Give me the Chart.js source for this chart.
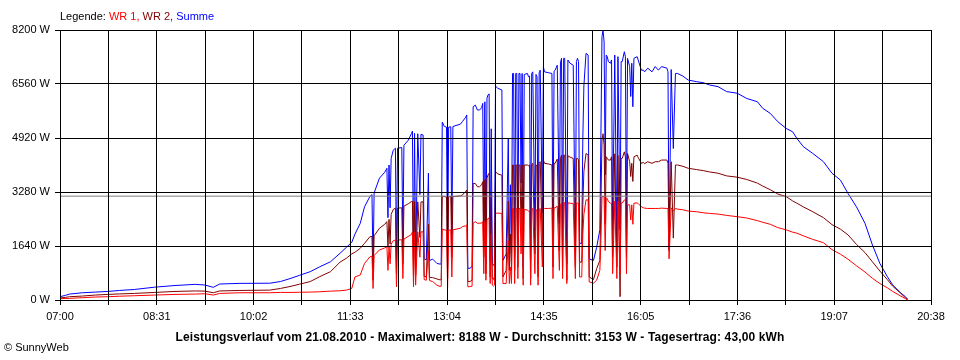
<!DOCTYPE html>
<html><head><meta charset="utf-8">
<script src="https://cdn.jsdelivr.net/npm/chart.js@4.4.1/dist/chart.umd.min.js"></script>
<style>
html,body{margin:0;padding:0;background:#fff;}
#wrap{position:relative;width:960px;height:360px;overflow:hidden;}
canvas{position:absolute;left:0;top:0;}
.txt{position:absolute;font-family:"Liberation Sans",Arial,sans-serif;white-space:nowrap;color:#000;line-height:1;}
#legend{left:60px;top:11px;font-size:11px;}
#title{left:0;width:960px;text-align:center;top:331px;font-size:12px;font-weight:bold;letter-spacing:0.12px;}
#copy{left:4px;top:342px;font-size:11px;}
</style></head><body>
<div id="wrap">
<canvas id="c" width="960" height="360"></canvas>
<div class="txt" id="legend">Legende: <span style="color:#ff0000">WR 1,</span> <span style="color:#800000">WR 2,</span> <span style="color:#0000ff">Summe</span></div>
<div class="txt" id="title">Leistungsverlauf vom 21.08.2010 - Maximalwert: 8188 W - Durchschnitt: 3153 W - Tagesertrag: 43,00 kWh</div>
<div class="txt" id="copy">© SunnyWeb</div>
</div>
<script>
const times = [
 "07:00","07:05","07:09","07:21","07:33","07:45","07:56","08:10","08:29","08:48",
 "09:07","09:16","09:24","09:30","09:49","10:17","10:27","10:36","10:45","10:55",
 "11:04","11:14","11:23","11:29","11:34","11:37","11:42","11:46","11:51","11:53",
 "11:54","11:55","12:00","12:05","12:07","12:08","12:09","12:10","12:11","12:13",
 "12:15","12:16","12:17","12:21","12:22","12:23","12:27","12:30","12:31","12:32",
 "12:33","12:34","12:36","12:38","12:39","12:41","12:42","12:44","12:46","12:47",
 "12:50","12:54","12:57","12:58","12:59","13:01","13:03","13:04","13:05","13:07",
 "13:08","13:09","13:16","13:18","13:21","13:22","13:23","13:25","13:27","13:28",
 "13:30","13:32","13:34","13:36","13:37","13:38","13:39","13:40","13:41","13:42",
 "13:43","13:44","13:45","13:46","13:47","13:48","13:49","13:51","13:55","13:56",
 "13:59","14:01","14:02","14:03","14:04","14:05","14:06","14:07","14:08","14:09",
 "14:10","14:11","14:12","14:13","14:14","14:15","14:16","14:19","14:20","14:21",
 "14:22","14:23","14:24","14:26","14:27","14:28","14:29","14:30","14:31","14:33",
 "14:34","14:35","14:39","14:42","14:43","14:44","14:45","14:47","14:49","14:50",
 "14:51","14:52","14:53","14:54","14:56","14:57","14:59","15:02","15:04","15:05",
 "15:06","15:07","15:08","15:10","15:11","15:12","15:14","15:16","15:17","15:21",
 "15:24","15:27","15:28","15:29","15:30","15:31","15:32","15:33","15:34","15:35",
 "15:37","15:38","15:39","15:41","15:43","15:44","15:46","15:47","15:48","15:50",
 "15:51","15:52","15:53","15:55","15:56","15:57","15:58","15:59","16:02","16:03",
 "16:06","16:08","16:09","16:12","16:16","16:19","16:22","16:25","16:30","16:31",
 "16:32","16:34","16:36","16:38","16:40","16:45","16:50","16:58","17:04","17:10",
 "17:18","17:26","17:36","17:45","17:55","18:00","18:07","18:14","18:22","18:28",
 "18:32","18:38","18:47","18:57","19:05","19:13","19:20","19:28","19:36","19:43",
 "19:50","19:57","20:02","20:09","20:14","20:16"
];
const wr1 = [
 40,45,50,70,90,100,115,130,150,170,
 180,190,150,200,220,220,230,230,235,240,
 250,270,280,300,350,700,760,1110,1310,1330,
 350,1350,1520,1580,1620,900,1650,1100,1700,1800,
 1820,400,1820,1830,650,1850,1930,1990,2070,400,
 2070,450,2070,1300,2070,2070,620,600,1500,590,
 560,450,410,420,2150,2130,2120,380,2120,2130,
 700,2130,2180,2230,2250,2280,400,405,420,2330,
 2380,2330,2330,2340,2380,800,2380,600,2430,2480,
 2480,500,2000,450,420,450,2630,2640,2630,500,
 500,1800,500,1000,500,2780,2780,500,2780,2780,
 650,2780,2780,1400,2780,450,2750,2730,2700,2710,
 450,2750,2780,800,2750,2700,450,2750,2780,1000,
 2800,2780,2780,2790,650,2800,2800,2850,900,2900,
 2950,650,2950,2960,500,2950,2940,2930,650,2940,
 2940,2940,700,700,2000,2600,3040,3040,550,510,
 600,900,1800,3140,3140,3140,1500,3100,3080,2990,
 2940,2940,800,3000,650,3000,800,2950,2940,3040,
 3040,800,2890,2890,2430,2890,2300,2940,2950,2930,
 2830,2800,2790,2780,2780,2780,2780,2790,2780,2780,
 1250,2800,2700,2780,2760,2740,2700,2680,2650,2630,
 2610,2570,2530,2490,2410,2360,2300,2200,2130,2060,
 2030,1950,1840,1740,1530,1390,1240,1040,850,660,
 500,370,260,130,40,0
];
const wr2 = [
 60,80,100,120,150,170,185,200,230,260,
 275,270,220,275,290,300,350,410,480,560,
 710,860,1150,1270,1400,1450,1570,1720,1920,1930,
 600,1950,2180,2300,2380,1600,2450,1700,2600,2750,
 2790,800,2790,2800,1100,2850,2920,2990,3000,700,
 2990,750,2980,1900,2980,2980,720,700,2300,690,
 680,640,610,620,3150,3140,3130,650,3140,3140,
 1300,3140,3160,3190,3300,3340,560,560,600,3540,
 3540,3440,3440,3500,3590,1300,3650,800,3700,3800,
 3850,700,3200,650,620,700,3900,3830,3790,700,
 900,3000,900,2000,900,4100,4100,900,4100,4100,
 1000,4100,4100,2100,4100,650,4100,4100,4080,4100,
 650,4120,4150,1400,4100,4080,700,4150,4200,1650,
 4250,4150,4130,4100,1000,4150,4150,4280,1500,4300,
 4400,1000,4400,4400,600,4380,4340,4300,1000,4300,
 4300,4250,1150,1150,2900,3900,4450,4400,700,620,
 950,1200,2900,4860,5050,4700,2300,4350,4300,4250,
 4250,4350,1300,4440,1000,4390,100,4300,4300,4500,
 4350,1300,4450,4200,3750,4150,3600,4350,4400,4330,
 4150,4180,4140,4200,4150,4200,4200,4250,4250,4150,
 1500,4200,1880,4100,4100,4060,4000,3960,3930,3890,
 3850,3770,3730,3660,3550,3460,3350,3220,3140,3010,
 2940,2830,2680,2500,2290,2150,1980,1690,1440,1160,
 880,620,420,220,70,0
];
const summe = [
 100,140,180,220,240,260,290,320,390,440,
 475,455,385,485,505,510,560,650,750,860,
 1010,1160,1420,1600,1750,2000,2330,2830,3140,3200,
 950,3250,3700,3880,4000,2500,4100,2800,4300,4550,
 4610,1200,4610,4630,1750,4700,4850,5050,5130,1100,
 5060,1200,5050,3200,5030,5010,1250,1220,3850,1200,
 1240,1110,1090,1100,5400,5270,5250,1000,5250,5260,
 2000,5270,5340,5420,5550,5620,960,965,1020,5870,
 5920,5770,5770,5840,5970,2100,6020,1100,6130,6230,
 6260,1200,5200,1100,1050,1100,6500,6430,6380,1200,
 1400,4900,1400,3500,1400,6880,6880,1300,6880,6880,
 1650,6880,6880,3550,6880,1000,6850,6880,6780,6800,
 1200,6880,6930,2100,6850,6780,1100,6900,6980,2650,
 7080,6930,6900,6880,1650,6950,6980,7130,2330,7200,
 7340,1650,7340,7340,1100,7290,7190,7130,1650,7240,
 7340,7240,1720,1720,4900,6500,7490,7440,1250,1200,
 1600,2130,5000,8000,8188,7840,3800,7440,7390,7240,
 7190,7290,2130,7440,1620,7390,2130,7240,7240,7540,
 7390,2130,7340,7090,6180,7190,5870,7340,7390,7290,
 6980,6980,6930,7040,6930,7090,6980,7090,7040,6930,
 1550,7000,4600,6880,6880,6800,6680,6630,6600,6530,
 6480,6330,6280,6120,6020,5820,5670,5420,5210,5110,
 4910,4660,4450,4200,3850,3640,3240,2830,2330,1670,
 1110,710,460,230,100,30
];
const averageW = 3153;
const yTicks = [0, 1640, 3280, 4920, 6560, 8200];
const xTickLabels = ["07:00","08:31","10:02","11:33","13:04","14:35","16:05","17:36","19:07","20:38"];
const startTime = "07:00", endTime = "20:38";

function toMin(t){ const p = t.split(":").map(Number); return p[0]*60 + p[1]; }
const t0 = toMin(startTime);
const span = toMin(endTime) - t0;
const pts = arr => arr.map((v,i) => ({x: toMin(times[i]) - t0, y: v}));
const nGrid = (xTickLabels.length - 1) * 2;

const FONT = {family: "'Liberation Sans', Arial, sans-serif", size: 11};
const lineDs = (label, data, color, extra) => Object.assign({
  label, data, borderColor: color, backgroundColor: color,
  borderWidth: 1, pointRadius: 0, tension: 0, fill: false,
  borderJoinStyle: 'round'
}, extra || {});

new Chart(document.getElementById('c'), {
  type: 'line',
  data: { datasets: [
    lineDs('WR 1', pts(wr1), '#ff0000'),
    lineDs('WR 2', pts(wr2), '#800000'),
    lineDs('Summe', pts(summe), '#0000ff'),
    lineDs('Durchschnitt', [{x: 0, y: averageW}, {x: span, y: averageW}], '#808080', {order: -1})
  ]},
  options: {
    responsive: false, animation: false, devicePixelRatio: 1,
    layout: { padding: {left: 0, right: 29, top: 30, bottom: 0} },
    plugins: { legend: {display: false}, tooltip: {enabled: false}, title: {display: false} },
    scales: {
      x: {
        type: 'linear', min: 0, max: span,
        afterBuildTicks: s => { s.ticks = Array.from({length: nGrid + 1}, (_, i) => ({value: i * span / nGrid})); },
        ticks: { autoSkip: false, maxRotation: 0, color: '#000', font: FONT, padding: 5,
          callback: (v, i) => (i % 2 === 0 ? xTickLabels[i / 2] : '') },
        grid: { color: '#000', lineWidth: 1, tickLength: 5, z: 1 },
        border: { display: false },
        afterFit: s => { s.height = 60; }
      },
      y: {
        min: 0, max: 8200,
        afterBuildTicks: s => { s.ticks = yTicks.map(v => ({value: v})); },
        ticks: { color: '#000', font: FONT, padding: 5, callback: v => v + ' W' },
        grid: { color: '#000', lineWidth: 1, tickLength: 5, z: 1 },
        border: { display: false },
        afterFit: s => { s.width = 60; }
      }
    }
  }
});
</script>
</body></html>
